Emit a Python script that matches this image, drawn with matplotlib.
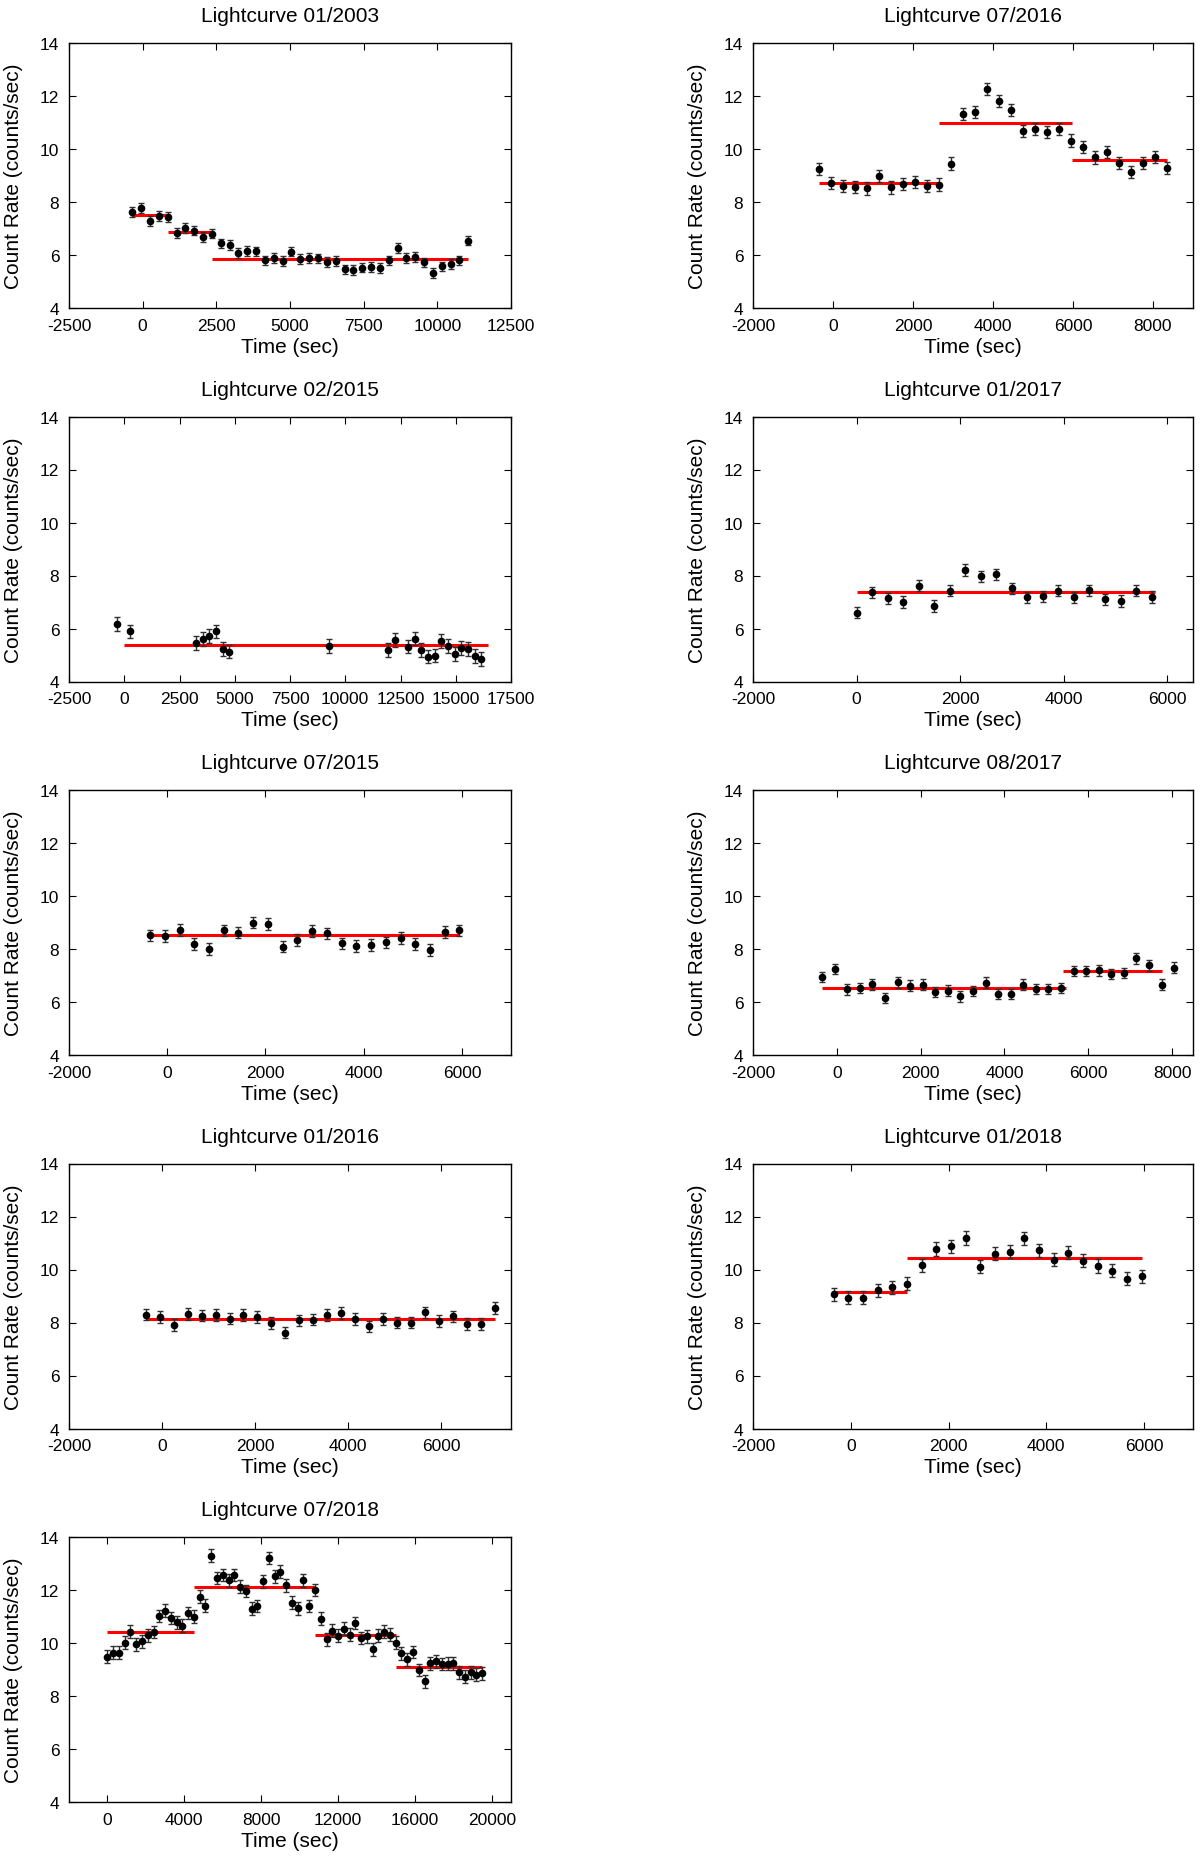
import matplotlib
matplotlib.use("Agg")
import matplotlib.pyplot as plt

plt.rcParams["font.family"] = ["Liberation Sans", "DejaVu Sans"]
plt.rcParams["axes.unicode_minus"] = False

# ---- 01/2003 ----
t_0103 = [-350, -50, 250, 550, 850, 1150, 1450, 1750, 2050, 2350, 2650, 2950, 3250,
          3550, 3850, 4150, 4450, 4750, 5050, 5350, 5650, 5950, 6250, 6550, 6850,
          7150, 7450, 7750, 8050, 8350, 8650, 8950, 9250, 9550, 9850, 10150, 10450,
          10750, 11050]
rate_0103 = [7.62, 7.77, 7.28, 7.47, 7.44, 6.84, 7.01, 6.92, 6.67, 6.81, 6.44, 6.38, 6.08,
             6.16, 6.14, 5.80, 5.89, 5.77, 6.13, 5.85, 5.89, 5.87, 5.73, 5.78, 5.46,
             5.44, 5.52, 5.54, 5.51, 5.80, 6.27, 5.89, 5.92, 5.72, 5.32, 5.57, 5.66,
             5.80, 6.54]
err_0103 = 0.18
fit_0103 = [(-350, 850, 7.50), (850, 2350, 6.85), (2350, 11050, 5.86)]

# ---- 07/2016 ----
t_0716 = [-350, -50, 250, 550, 850, 1150, 1450, 1750, 2050, 2350, 2650, 2950, 3250,
          3550, 3850, 4150, 4450, 4750, 5050, 5350, 5650, 5950, 6250, 6550, 6850,
          7150, 7450, 7750, 8050, 8350]
rate_0716 = [9.24, 8.71, 8.60, 8.57, 8.51, 8.97, 8.55, 8.69, 8.75, 8.60, 8.66, 9.45, 11.32,
             11.39, 12.26, 11.82, 11.48, 10.69, 10.74, 10.63, 10.77, 10.32, 10.09, 9.68, 9.89,
             9.46, 9.12, 9.48, 9.70, 9.27]
err_0716 = 0.23
fit_0716 = [(-350, 2650, 8.73), (2650, 5970, 10.98), (5970, 8350, 9.58)]

# ---- 02/2015 ----
t_0215 = [-350, 250, 3250, 3550, 3850, 4150, 4450, 4750, 9250, 11950, 12250, 12850,
          13150, 13450, 13750, 14050, 14350, 14650, 14950, 15250, 15550, 15850, 16150]
rate_0215 = [6.18, 5.89, 5.46, 5.61, 5.71, 5.89, 5.24, 5.13, 5.33, 5.19, 5.56, 5.32,
             5.62, 5.20, 4.94, 4.98, 5.52, 5.33, 5.03, 5.25, 5.22, 4.95, 4.85]
err_0215 = 0.26
fit_0215 = [(0, 16450, 5.37)]

# ---- 01/2017 ----
t_0117 = [0, 300, 600, 900, 1200, 1500, 1800, 2100, 2400, 2700, 3000, 3300, 3600,
          3900, 4200, 4500, 4800, 5100, 5400, 5700]
rate_0117 = [6.59, 7.36, 7.14, 7.00, 7.62, 6.85, 7.42, 8.21, 7.97, 8.04, 7.52, 7.18, 7.22,
             7.42, 7.18, 7.44, 7.10, 7.04, 7.42, 7.19]
err_0117 = 0.21
fit_0117 = [(0, 5760, 7.36)]

# ---- 07/2015 ----
t_0715 = [-350, -50, 250, 550, 850, 1150, 1450, 1750, 2050, 2350, 2650, 2950, 3250,
          3550, 3850, 4150, 4450, 4750, 5050, 5350, 5650, 5950]
rate_0715 = [8.51, 8.49, 8.71, 8.19, 8.00, 8.70, 8.62, 9.00, 8.95, 8.09, 8.35, 8.68, 8.59,
             8.21, 8.11, 8.16, 8.25, 8.42, 8.20, 7.95, 8.64, 8.70]
err_0715 = 0.22
fit_0715 = [(-350, 5950, 8.54)]

# ---- 08/2017 ----
t_0817 = [-350, -50, 250, 550, 850, 1150, 1450, 1750, 2050, 2350, 2650, 2950, 3250,
          3550, 3850, 4150, 4450, 4750, 5050, 5350, 5650, 5950, 6250, 6550, 6850,
          7150, 7450, 7750, 8050]
rate_0817 = [6.94, 7.25, 6.48, 6.53, 6.67, 6.15, 6.74, 6.62, 6.65, 6.38, 6.43, 6.21, 6.42,
             6.73, 6.30, 6.30, 6.65, 6.49, 6.49, 6.53, 7.17, 7.17, 7.19, 7.06, 7.09,
             7.65, 7.38, 6.65, 7.30]
err_0817 = 0.2
fit_0817 = [(-350, 5480, 6.54), (5400, 7750, 7.18)]

# ---- 01/2016 ----
t_0116 = [-350, -50, 250, 550, 850, 1150, 1450, 1750, 2050, 2350, 2650, 2950, 3250,
          3550, 3850, 4150, 4450, 4750, 5050, 5350, 5650, 5950, 6250, 6550, 6850, 7150]
rate_0116 = [8.30, 8.20, 7.91, 8.33, 8.26, 8.28, 8.15, 8.29, 8.20, 7.97, 7.62, 8.08, 8.11,
             8.29, 8.37, 8.13, 7.85, 8.14, 8.00, 8.00, 8.38, 8.06, 8.23, 7.94, 7.94, 8.54]
err_0116 = 0.22
fit_0116 = [(-350, 7150, 8.13)]

# ---- 01/2018 ----
t_0118 = [-350, -50, 250, 550, 850, 1150, 1450, 1750, 2050, 2350, 2650, 2950, 3250,
          3550, 3850, 4150, 4450, 4750, 5050, 5350, 5650, 5950]
rate_0118 = [9.07, 8.93, 8.94, 9.21, 9.33, 9.46, 10.16, 10.77, 10.87, 11.19, 10.11, 10.59, 10.67,
             11.17, 10.73, 10.37, 10.64, 10.33, 10.13, 9.96, 9.65, 9.75]
err_0118 = 0.25
fit_0118 = [(-350, 1150, 9.14), (1150, 5950, 10.44)]

# ---- 07/2018 ----
t_0718 = [0, 300, 600, 900, 1200, 1500, 1800, 2100, 2400, 2700, 3000, 3300, 3600, 3900,
          4200, 4500, 4800, 5100, 5400, 5700, 6000, 6300, 6600, 6900, 7200, 7500, 7800,
          8100, 8400, 8700, 9000, 9300, 9600, 9900, 10200, 10500, 10800, 11100, 11400,
          11700, 12000, 12300, 12600, 12900, 13200, 13500, 13800, 14100, 14400, 14700,
          15000, 15300, 15600, 15900, 16200, 16500, 16800, 17100, 17400, 17700, 18000,
          18300, 18600, 18900, 19200, 19500]
rate_0718 = [9.48, 9.63, 9.63, 10.01, 10.43, 9.95, 10.06, 10.29, 10.41, 11.02, 11.22, 10.94,
             10.78, 10.66, 11.13, 10.99, 11.75, 11.41, 13.30, 12.45, 12.57, 12.36, 12.57,
             12.13, 11.96, 11.29, 11.40, 12.33, 13.21, 12.51, 12.69, 12.18, 11.52, 11.31,
             12.37, 11.40, 12.00, 10.92, 10.14, 10.47, 10.27, 10.54, 10.31, 10.75, 10.19,
             10.25, 9.76, 10.28, 10.43, 10.31, 10.01, 9.61, 9.38, 9.66, 8.98, 8.56, 9.24,
             9.31, 9.21, 9.22, 9.24, 8.90, 8.73, 8.90, 8.80, 8.85]
err_0718 = 0.24
fit_0718 = [(0, 4500, 10.42), (4500, 10800, 12.11), (10800, 15000, 10.32), (15000, 19500, 9.11)]

# (title, t, rate, err, fit, xlim, xticks, column, row)
panels = [
    ("Lightcurve 01/2003", t_0103, rate_0103, err_0103, fit_0103, (-2500, 12500),
     range(-2500, 12501, 2500), 0, 0),
    ("Lightcurve 07/2016", t_0716, rate_0716, err_0716, fit_0716, (-2000, 9000),
     range(-2000, 8001, 2000), 1, 0),
    ("Lightcurve 02/2015", t_0215, rate_0215, err_0215, fit_0215, (-2500, 17500),
     range(-2500, 17501, 2500), 0, 1),
    ("Lightcurve 01/2017", t_0117, rate_0117, err_0117, fit_0117, (-2000, 6500),
     range(-2000, 6001, 2000), 1, 1),
    ("Lightcurve 07/2015", t_0715, rate_0715, err_0715, fit_0715, (-2000, 7000),
     range(-2000, 6001, 2000), 0, 2),
    ("Lightcurve 08/2017", t_0817, rate_0817, err_0817, fit_0817, (-2000, 8500),
     range(-2000, 8001, 2000), 1, 2),
    ("Lightcurve 01/2016", t_0116, rate_0116, err_0116, fit_0116, (-2000, 7500),
     range(-2000, 6001, 2000), 0, 3),
    ("Lightcurve 01/2018", t_0118, rate_0118, err_0118, fit_0118, (-2000, 7000),
     range(-2000, 6001, 2000), 1, 3),
    ("Lightcurve 07/2018", t_0718, rate_0718, err_0718, fit_0718, (-2000, 21000),
     range(0, 20001, 4000), 0, 4),
]

W, H = 1200, 1858
fig = plt.figure(figsize=(W / 100, H / 100), dpi=100)

col_x = [69, 753]
col_w = [442, 440]
row_top = [44, 417.5, 791, 1164.5, 1538]
ax_h = 265

for title, t, rate, err, fit, xlim, xticks, col, row in panels:
    left = col_x[col] / W
    bottom = 1 - (row_top[row] + ax_h) / H
    ax = fig.add_axes([left, bottom, col_w[col] / W, ax_h / H])

    for start, end, level in fit:
        ax.hlines(level, start, end, color="red", lw=2.2, zorder=2)
    ax.errorbar(t, rate, yerr=err, fmt="o", color="black", ms=4.5,
                ecolor="#303030", elinewidth=1, capsize=2.5, capthick=1, zorder=3)

    ax.set_xlim(*xlim)
    ax.set_ylim(4, 14)
    ax.set_xticks(list(xticks))
    ax.set_yticks(range(4, 15, 2))
    ax.tick_params(direction="in", top=True, right=True, length=5, width=0.8,
                   labelsize=12.5, pad=7)
    for s in ax.spines.values():
        s.set_linewidth(1.0)
    ax.set_title(title, fontsize=15, pad=15.5)
    ax.set_xlabel("Time (sec)", fontsize=15, labelpad=3)
    ax.set_ylabel("Count Rate (counts/sec)", fontsize=15, labelpad=12)

fig.savefig("out.png", dpi=100)
